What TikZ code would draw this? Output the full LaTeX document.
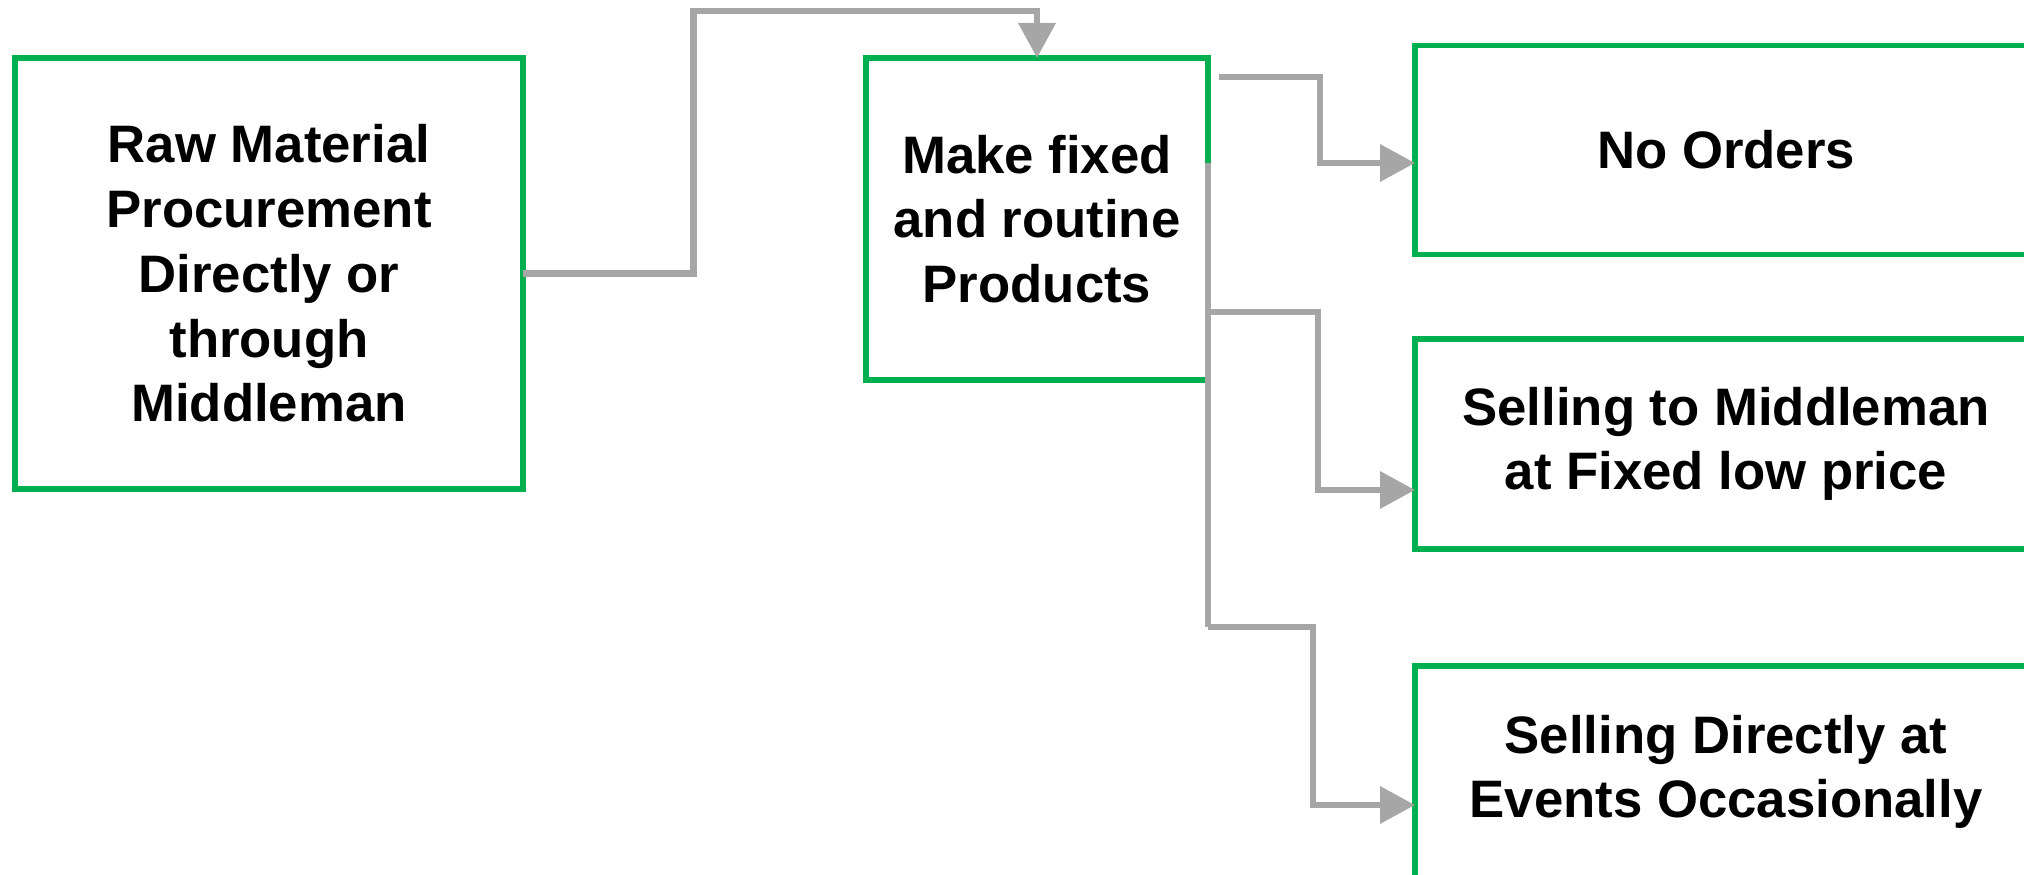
\documentclass[tikz,border=0pt]{standalone}
\usepackage{fontspec}
\setmainfont{Liberation Sans}
\usepackage{xcolor}
\usetikzlibrary{arrows.meta}

\definecolor{boxgreen}{HTML}{00B050}
\definecolor{linkgrey}{HTML}{A6A6A6}

\begin{document}
\begin{tikzpicture}[
    stage/.style={
        draw=boxgreen,
        line width=1.6pt,
        align=center,
        inner sep=0pt,
        outer sep=0pt,
        font=\bfseries\fontsize{15pt}{18.4pt}\selectfont
    },
    link/.style={draw=linkgrey, line width=1.9pt},
    arrow/.style={link, -{Triangle[length=3.5mm,width=3.6mm]}}
]
\useasboundingbox (0,0) rectangle (20.24,8.75);

\node[stage, minimum width=5.075cm, minimum height=4.31cm] (raw) at (2.69,6.015)
    {Raw Material\\Procurement\\Directly or\\through\\Middleman};
\node[stage, minimum width=3.42cm, minimum height=3.22cm] (make) at (10.37,6.56)
    {Make fixed\\and routine\\Products};

\node[stage, minimum width=6.22cm, minimum height=2.09cm] (orders) at (17.26,7.25)
    {No Orders};
\node[stage, minimum width=6.22cm, minimum height=2.095cm] (middle) at (17.26,4.31)
    {Selling to Middleman\\at Fixed low price};
\node[stage, minimum width=6.22cm, minimum height=2.12cm] (events) at (17.26,1.03)
    {Selling Directly at\\Events Occasionally};

% procurement feeds production over the top
\draw[arrow] (raw.east) -- ++(1.71,0) |- ([yshift=4.7mm]make.north) -- (make.north);

% outlets
\coordinate (trunktop) at ([yshift=5.6mm]make.east);
\coordinate (trunkbot) at ([yshift=-40.8mm]make.east);
\draw[link] (trunktop) -- (trunkbot);

\draw[arrow] ([xshift=1.1mm,yshift=-1.9mm]make.north east) -- ++(1.01,0)
    |- ([yshift=-1.3mm]orders.west);
\draw[arrow] ([yshift=-9.3mm]make.east) -- ++(1.1,0) |- ([yshift=-4.6mm]middle.west);
\draw[arrow] (trunkbot) -- ++(1.05,0) |- ([yshift=-3.3mm]events.west);

\end{tikzpicture}
\end{document}
